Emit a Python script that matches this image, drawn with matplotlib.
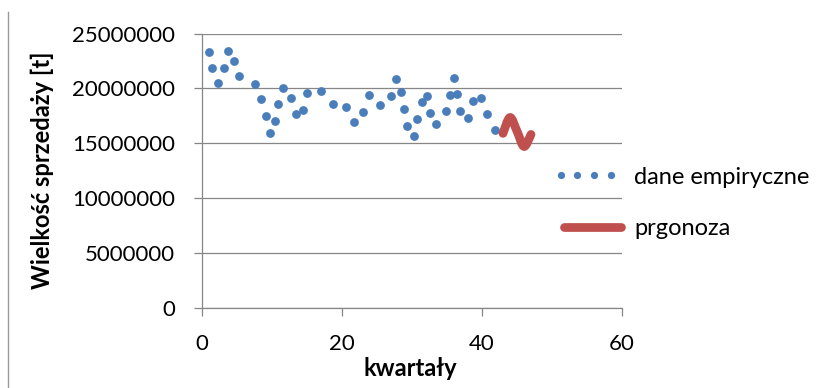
import numpy as np
import matplotlib
matplotlib.use("Agg")
import matplotlib.pyplot as plt
from matplotlib.lines import Line2D
from matplotlib.path import Path
from matplotlib.patches import PathPatch
from matplotlib.legend_handler import HandlerLine2D

plt.rcParams['font.family'] = ['Lato', 'DejaVu Sans']

# Empirical quarterly sales volume [t]
quarters = [1.0, 1.47, 2.24, 3.19, 3.76, 4.54, 5.29, 7.57, 8.5, 9.14,
            9.74, 10.46, 10.86, 11.54, 12.67, 13.46, 14.4, 14.93, 17.03, 18.76,
            20.57, 21.74, 23.07, 23.86, 25.46, 26.93, 27.69, 28.43, 28.79, 29.24,
            30.24, 30.74, 31.36, 32.21, 32.64, 33.4, 34.79, 35.43, 35.93, 36.47,
            36.81, 38.07, 38.67, 39.9, 40.74, 41.9]
sales = [23360000, 21830000, 20470000, 21900000, 23420000, 22540000, 21110000,
         20440000, 19010000, 17460000, 15960000, 17030000, 18580000, 20070000,
         19160000, 17670000, 18060000, 19610000, 19730000, 18580000, 18340000,
         16940000, 17870000, 19360000, 18470000, 19320000, 20840000, 19680000,
         18110000, 16580000, 15640000, 17190000, 18740000, 19320000, 17740000,
         16800000, 17950000, 19410000, 21000000, 19520000, 17930000, 17320000,
         18840000, 19110000, 17640000, 16210000]

# Forecast
fc_quarters = [43, 44, 45, 46, 47]
fc_sales = [15900000, 17350000, 16100000, 14700000, 15800000]

y_ticks = [0, 5000000, 10000000, 15000000, 20000000, 25000000]
x_ticks = [0, 20, 40, 60]

blue = '#4A7EBB'
red = '#C0504D'
grid_c = '#868686'
fs = 16
lfs = 17

W, H = 837, 388
fig = plt.figure(figsize=(W / 100, H / 100), dpi=100)
ax = fig.add_axes([202 / W, 1 - 307.5 / H, 420 / W, 273.8 / H])

ax.scatter(quarters, sales, s=40, color=blue, zorder=3, linewidths=0)


def smooth_path(xs, ys, tension=1 / 6):
    """Catmull-Rom style Bezier path through the given points."""
    pts = np.column_stack([xs, ys]).astype(float)
    verts = [pts[0]]
    codes = [Path.MOVETO]
    n = len(pts)
    for i in range(n - 1):
        p0 = pts[i - 1] if i > 0 else pts[i]
        p1 = pts[i]
        p2 = pts[i + 1]
        p3 = pts[i + 2] if i + 2 < n else pts[i + 1]
        c1 = p1 + (p2 - p0) * tension
        c2 = p2 - (p3 - p1) * tension
        verts += [c1, c2, p2]
        codes += [Path.CURVE4] * 3
    return Path(verts, codes)


fc_patch = PathPatch(smooth_path(fc_quarters, fc_sales), facecolor='none',
                     edgecolor=red, linewidth=6.3, capstyle='round',
                     joinstyle='round', zorder=4)
ax.add_patch(fc_patch)

ax.set_xlim(0, 60)
ax.set_ylim(0, 25000000)
ax.set_xticks(x_ticks)
ax.set_yticks(y_ticks)
ax.set_xticklabels([str(v) for v in x_ticks])
ax.set_yticklabels([str(v) for v in y_ticks])
ax.tick_params(axis='both', direction='out', length=5.8, width=0.9,
               color=grid_c, labelsize=fs, pad=13.5)
ax.yaxis.grid(True, color=grid_c, linewidth=0.9)
ax.set_axisbelow(True)
for side in ('top', 'right'):
    ax.spines[side].set_visible(False)
for side in ('left', 'bottom'):
    ax.spines[side].set_color(grid_c)
    ax.spines[side].set_linewidth(0.9)

ax.set_ylabel('Wielkość sprzedaży [t]', fontsize=lfs, fontweight='bold')
ax.yaxis.set_label_coords(-0.352, 0.5)
ax.set_xlabel('kwartały', fontsize=lfs, fontweight='bold')
ax.xaxis.set_label_coords(0.495, -0.182)


class DotsHandler(HandlerLine2D):
    """Four dots spread over the left part of the legend handle."""

    def get_xdata(self, legend, xdescent, ydescent, width, height, fontsize):
        xs = np.linspace(-xdescent + 0.05 * width, -xdescent + 0.76 * width, 4)
        return xs, xs


dots = Line2D([], [], linestyle='none', marker='o', markersize=5.2,
              markerfacecolor=blue, markeredgewidth=0)
band = Line2D([], [], color=red, linewidth=6.3, solid_capstyle='round')
fig.legend([dots, band], ['dane empiryczne', 'prgonoza'], loc='center left',
           bbox_to_anchor=(557 / W, 1 - 203 / H), frameon=False,
           fontsize=lfs, numpoints=4, handlelength=3.0, handletextpad=0.28,
           labelspacing=1.3, borderpad=0, borderaxespad=0,
           handler_map={dots: DotsHandler(numpoints=4)})

# thin rule at the left edge of the figure
fig.add_artist(Line2D([8 / W, 8 / W], [0, 1 - 12 / H], color='#9a9a9a',
                      linewidth=1.0, transform=fig.transFigure))

fig.savefig('out.png', dpi=100)
